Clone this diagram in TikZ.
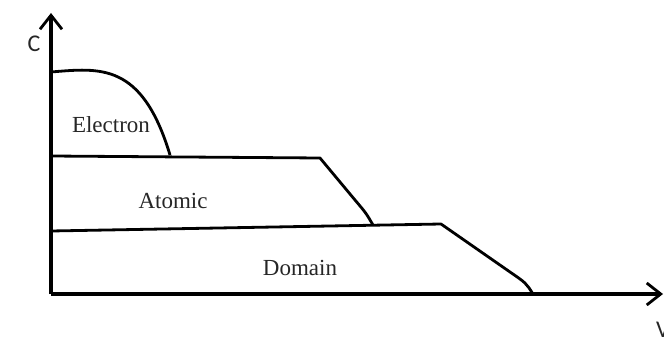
\documentclass[tikz,border=0pt]{standalone}
\usepackage{fontspec}
\setmainfont{Liberation Serif}
\newfontfamily\axisfont{Carlito}
\usetikzlibrary{arrows.meta}
\begin{document}
\begin{tikzpicture}[x=1pt,y=-1pt,
  curve/.style={line width=2.8pt, line join=round},
  axisline/.style={line width=3.2pt, -{Straight Barb[length=14pt,width=22pt,line width=2.8pt]}},
  region/.style={font=\fontsize{23}{26}\selectfont, text=black!85},
  axislabel/.style={font=\axisfont\fontsize{24}{28}\selectfont, text=black!85}]
\useasboundingbox (0,0) rectangle (664,337);

% axes
\coordinate (o) at (51,294);
\coordinate (ytip) at (51,13);
\coordinate (xtip) at (663,294);
\draw[axisline] (o) -- (ytip);
\draw[axisline] (o) -- (xtip);
\node[axislabel] (c) at (34,44) {C};
\node[axislabel, anchor=north west, inner sep=0pt] (v) at (656,322) {V};

% electron region boundary
\coordinate (e0) at (51,72);
\coordinate (e1) at (170,155);
\draw[curve] (e0) .. controls (100,68) and (142,62) .. (e1);

% atomic region boundary
\coordinate (a0) at (51,156);
\coordinate (a1) at (320,158);
\coordinate (a2) at (373,225);
\draw[curve] (a0) -- (a1) -- (355,200) .. controls (366,213) .. (a2);

% domain region boundary
\coordinate (d0) at (51,231);
\coordinate (d1) at (441,224);
\coordinate (d2) at (533,294);
\draw[curve] (d0) -- (d1) -- (510,272) .. controls (526,283) .. (d2);

% region labels
\node[region] (electron) at (111,125) {Electron};
\node[region] (atomic) at (173,201) {Atomic};
\node[region] (domain) at (300,268) {Domain};
\end{tikzpicture}
\end{document}
